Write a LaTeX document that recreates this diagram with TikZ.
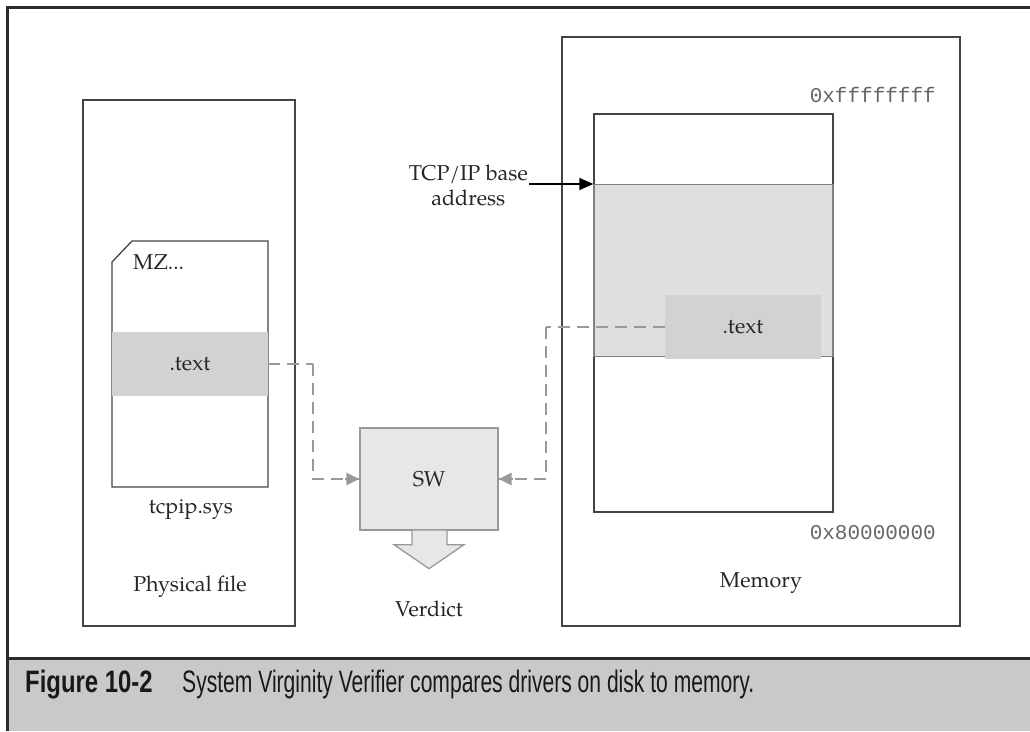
\documentclass[tikz,border=0pt]{standalone}
\usepackage{fontspec}
\setmainfont{TeX Gyre Pagella}
\newfontfamily\monofont{Liberation Mono}
\newfontfamily\capfont[FakeStretch=0.68]{Liberation Sans}
\newfontfamily\capbold[FakeStretch=0.77]{Liberation Sans}
\usetikzlibrary{arrows.meta,calc}
\definecolor{framec}{HTML}{2B2B2B}
\definecolor{boxc}{HTML}{444444}
\definecolor{textfill}{HTML}{D1D2D4}
\definecolor{swfill}{HTML}{E6E7E8}
\definecolor{shadefill}{HTML}{DEDFE0}
\definecolor{dashc}{HTML}{999999}
\definecolor{capfill}{HTML}{C8C9CB}
\tikzset{
  box/.style={draw=boxc, line width=1.3pt, inner sep=0pt},
  txtbox/.style={fill=textfill, inner sep=0pt, font=\fontsize{21.5}{26}\selectfont, text=black!85},
  lbl/.style={inner sep=0pt, font=\fontsize{21.5}{26}\selectfont, text=black!85},
  addr/.style={inner sep=0pt, font=\monofont\fontsize{21}{24}\selectfont, text=black!60},
  dashline/.style={draw=dashc, line width=2.6pt, dash pattern=on 12pt off 7pt},
  grayarrow/.style={-{Triangle[length=13pt,width=12pt]}},
}
\begin{document}
\begin{tikzpicture}[x=1pt,y=-1pt]
\useasboundingbox (0,0) rectangle (1030,731);
% caption band
\fill[capfill] (7,658) rectangle (1030,731);
\draw[framec, line width=3pt] (7,658) -- (1030,658);
\draw[framec, line width=3pt] (1030,7) -- (7,7) -- (7,731);
\node[font=\capbold\bfseries\fontsize{31}{34}\selectfont, anchor=base west, inner sep=0pt, text=black!90] (figno) at (25,692) {Figure 10-2};
\node[font=\capfont\fontsize{31}{34}\selectfont, anchor=base west, inner sep=0pt, text=black!90] (captext) at (182,692) {System Virginity Verifier compares drivers on disk to memory.};

% physical file
\node[box, minimum width=212pt, minimum height=526pt] (phys) at (189,363) {};
\draw[boxc, line width=1.3pt] (112,487) -- (112,262) -- (132,241) -- (268,241) -- (268,487) -- cycle;
\node[lbl, anchor=west] (mz) at (133,262) {MZ...};
\node[txtbox, minimum width=156pt, minimum height=64pt] (ptext) at (190,364) {.text};
\node[lbl] (tcpip) at (191,510) {tcpip.sys};
\node[lbl] (physlbl) at (190,587) {Physical file};

% memory
\node[box, minimum width=398pt, minimum height=589pt] (mem) at (761,331.5) {};
\node[box, minimum width=239pt, minimum height=398pt] (inner) at (713.5,313) {};
\node[fill=shadefill, draw=gray, line width=1.3pt, minimum width=239pt, minimum height=172pt, inner sep=0pt] (shade) at (713.5,270.5) {};
\node[txtbox, minimum width=156pt, minimum height=64pt] (mtext) at (743,327) {.text};
\node[addr, anchor=east] (ffff) at (936,95) {0xffffffff};
\node[addr, anchor=east] (eight) at (936,533) {0x80000000};
\node[lbl] (memlbl) at (761,583) {Memory};
\node[lbl, align=center, anchor=north east] (tcp) at (528,165) {TCP/IP base\\[-1pt]address};
\coordinate (tcpend) at (529,184);
\draw[black, line width=1.3pt, -{Triangle[length=14pt,width=12pt]}] (tcpend) -- (tcpend -| inner.west);

% SW
\node[fill=swfill, draw=dashc, line width=1.3pt, minimum width=138pt, minimum height=102pt, inner sep=0pt, font=\fontsize{21.5}{26}\selectfont, text=black!85] (sw) at (429,479) {SW};
\filldraw[fill=swfill, draw=dashc, line width=1.3pt]
  ($(sw.south)+(-17,0)$) -- ($(sw.south)+(-17,14)$) -- ($(sw.south)+(-35,14)$) -- ($(sw.south)+(0,38)$)
  -- ($(sw.south)+(35,14)$) -- ($(sw.south)+(18,14)$) -- ($(sw.south)+(18,0)$);
\node[lbl] (verdict) at (429,609) {Verdict};

% dashed connectors
\coordinate (lturn) at (313,364);
\coordinate (rturn) at (546,327);
\draw[dashline] (ptext.east) -- (lturn);
\draw[dashline] (lturn) |- (sw.west);
\draw[draw=dashc, fill=dashc, grayarrow, line width=2.6pt] ($(sw.west)+(-14,0)$) -- (sw.west);
\draw[dashline] (mtext.west) -- (rturn);
\draw[dashline] (rturn) |- (sw.east);
\draw[draw=dashc, fill=dashc, grayarrow, line width=2.6pt] ($(sw.east)+(14,0)$) -- (sw.east);
\end{tikzpicture}
\end{document}
